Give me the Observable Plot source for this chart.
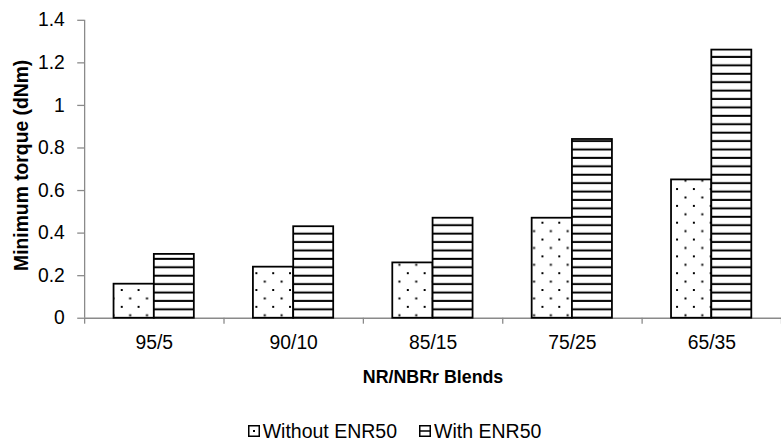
<!DOCTYPE html>
<html><head><meta charset="utf-8">
<script src="https://cdn.jsdelivr.net/npm/d3@7"></script>
<script src="https://cdn.jsdelivr.net/npm/@observablehq/plot@0.6"></script>
<style>
html,body{margin:0;padding:0;background:#fff;overflow:hidden;width:781px;height:446px}
#chart svg{display:block}
#legend{width:789px;height:46px;box-sizing:border-box;padding-top:25px;display:flex;justify-content:center;align-items:center;font-family:"Liberation Sans",Arial,sans-serif;font-size:19.5px;color:#000;line-height:22px}
.item{display:flex;align-items:center;margin:0 11px}
.item svg{margin-right:3px}
</style></head><body>
<div id="chart"></div>
<div id="legend"></div>
<script>
const categories = ["95/5", "90/10", "85/15", "75/25", "65/35"];
const seriesNames = ["Without ENR50", "With ENR50"];
const withoutENR50 = [0.16, 0.24, 0.26, 0.47, 0.65];
const withENR50 = [0.30, 0.43, 0.47, 0.84, 1.26];
const yTicks = [0, 0.2, 0.4, 0.6, 0.8, 1, 1.2, 1.4];
const yTickLabels = ["0", "0.2", "0.4", "0.6", "0.8", "1", "1.2", "1.4"];
const xLabel = "NR/NBRr Blends";
const yLabel = "Minimum torque (dNm)";

const rows = categories.flatMap((c, i) => [
  {cat: c, i, series: seriesNames[0], value: withoutENR50[i]},
  {cat: c, i, series: seriesNames[1], value: withENR50[i]}
]);

const gray = "#8a8a8a";
const font = "Liberation Sans, Arial, sans-serif";

const chart = Plot.plot({
  width: 789,
  height: 400,
  marginLeft: 85,
  marginRight: 0,
  marginTop: 20,
  marginBottom: 79,
  style: {fontFamily: font, fontSize: "19.5px", color: "#000", background: "#fff"},
  x: {type: "linear", domain: [0, categories.length], axis: null},
  y: {domain: [0, 1.4], axis: null},
  marks: [
    Plot.ruleY([0], {stroke: gray, strokeWidth: 1.3}),
    Plot.ruleX([0], {stroke: gray, strokeWidth: 1.3}),
    Plot.axisX({ticks: d3.range(categories.length + 1), tickSize: 6, tickFormat: () => "", label: null, stroke: gray, strokeWidth: 1.3}),
    Plot.axisY({ticks: yTicks, tickFormat: d => yTickLabels[yTicks.indexOf(d)], tickSize: 7, tickPadding: 13, label: null, stroke: gray, strokeWidth: 1.3, fill: "#000", fontSize: 19.5}),
    Plot.rectY(rows.filter(d => d.series === seriesNames[0]), {
      x1: d => d.i + 0.211, x2: d => d.i + 0.5, y: "value",
      fill: "url(#dotsPat)", stroke: "#000", strokeWidth: 1.8
    }),
    Plot.rectY(rows.filter(d => d.series === seriesNames[1]), {
      x1: d => d.i + 0.5, x2: d => d.i + 0.787, y: "value",
      fill: "url(#linesPat)", stroke: "#000", strokeWidth: 1.8
    }),
    Plot.text(categories, {x: (d, i) => i + 0.5, text: d => d, frameAnchor: "bottom", lineAnchor: "middle", dy: 25, fontSize: 19.5, fill: "#000"}),
    Plot.text([xLabel], {frameAnchor: "bottom", lineAnchor: "middle", dy: 60, fontWeight: "bold", fontSize: 18, fill: "#000"}),
    Plot.text([yLabel], {frameAnchor: "left", textAnchor: "middle", lineAnchor: "middle", dx: -63, dy: -4, rotate: -90, fontWeight: "bold", fontSize: 19.5, fill: "#000"})
  ]
});

const ns = "http://www.w3.org/2000/svg";
const defs = document.createElementNS(ns, "defs");
defs.innerHTML = `
<pattern id="dotsPat" patternUnits="userSpaceOnUse" width="17" height="17">
  <rect width="17" height="17" fill="#fff"/>
  <rect x="3" y="3" width="2" height="2" fill="#000"/>
  <rect x="11.5" y="11.5" width="2" height="2" fill="#000"/>
</pattern>
<pattern id="linesPat" patternUnits="userSpaceOnUse" width="8" height="8.5">
  <rect width="8" height="8.5" fill="#fff"/>
  <rect x="0" y="5.5" width="8" height="2" fill="#000"/>
</pattern>`;
chart.insertBefore(defs, chart.firstChild);
document.getElementById("chart").appendChild(chart);

const swatches = [
  `<svg width="12" height="12"><rect x="0.75" y="0.75" width="10.5" height="10.5" fill="#fff" stroke="#000" stroke-width="1.5"/><rect x="5" y="5" width="2" height="2" fill="#000"/></svg>`,
  `<svg width="12" height="12"><rect x="0.75" y="0.75" width="10.5" height="10.5" fill="#fff" stroke="#000" stroke-width="1.5"/><rect x="1" y="5.25" width="10" height="1.5" fill="#000"/></svg>`
];
const legend = document.getElementById("legend");
seriesNames.forEach((name, k) => {
  const item = document.createElement("div");
  item.className = "item";
  item.innerHTML = swatches[k] + `<span>${name}</span>`;
  legend.appendChild(item);
});
</script>
</body></html>
